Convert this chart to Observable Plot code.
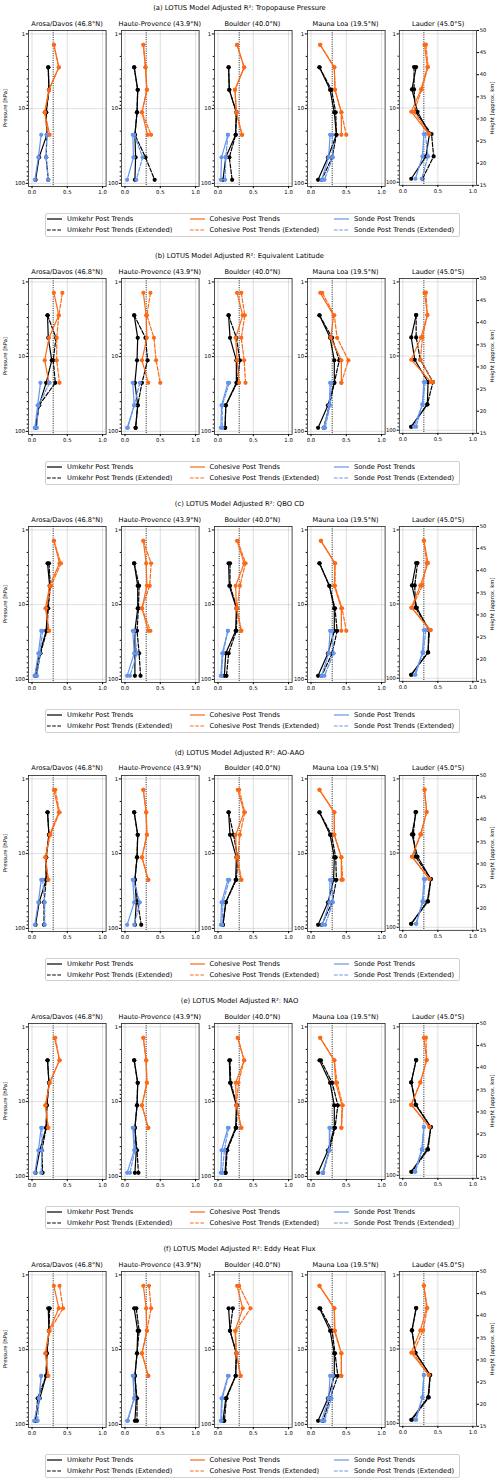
<!DOCTYPE html>
<html><head><meta charset="utf-8">
<script src="https://cdn.jsdelivr.net/npm/d3@7"></script>
<script src="https://cdn.jsdelivr.net/npm/@observablehq/plot@0.6"></script>
<style>
body{margin:0;background:#fff;}
#root{position:relative;width:500px;height:1483px;overflow:hidden;background:#fff;font-family:"DejaVu Sans",sans-serif;color:#000;}
.t{position:absolute;white-space:nowrap;transform:translate(-50%,-50%);line-height:1;}
.sub{position:absolute;}
.leg{position:absolute;border:0.8px solid #cfcfcf;border-radius:2px;background:#fff;box-sizing:border-box;}
</style></head><body><div id="root"></div>
<script>
// ---- Data ----
const stations = ["Arosa/Davos (46.8°N)", "Haute-Provence (43.9°N)", "Boulder (40.0°N)", "Mauna Loa (19.5°N)", "Lauder (45.0°S)"];
const titles = [
  "(a) LOTUS Model Adjusted R²: Tropopause Pressure",
  "(b) LOTUS Model Adjusted R²: Equivalent Latitude",
  "(c) LOTUS Model Adjusted R²: QBO CD",
  "(d) LOTUS Model Adjusted R²: AO-AAO",
  "(e) LOTUS Model Adjusted R²: NAO",
  "(f) LOTUS Model Adjusted R²: Eddy Heat Flux"
];
const umkehrP = [2.8, 5.6, 11.2, 22.4, 44.8, 89.6];
const cohesiveP = [1.4, 2.8, 5.6, 11.2, 22.4];
const sondeP = [22.4, 44.8, 89.6];
const xTicks = [0, 0.5, 1];
const yTicks = [1, 10, 100];
const yMinorTicks = [2,3,4,5,6,7,8,9,20,30,40,50,60,70,80,90];
const heightTicks = [15,20,25,30,35,40,45,50];
const legendLabels = ["Umkehr Post Trends", "Umkehr Post Trends (Extended)", "Cohesive Post Trends", "Cohesive Post Trends (Extended)", "Sonde Post Trends", "Sonde Post Trends (Extended)"];

// (a) Tropopause Pressure
const a_umk  = [[0.23,0.24,0.20,0.21,0.10,0.05],[0.13,0.18,0.17,0.14,0.15,0.14],[0.15,0.16,0.26,0.25,0.11,0.07],[0.12,0.27,0.33,0.36,0.24,0.10],[0.19,0.13,0.21,0.38,0.33,0.12]];
const a_umkX = [[0.23,0.24,0.20,0.21,0.20,0.23],[0.13,0.18,0.17,0.14,0.29,0.42],[0.15,0.16,0.26,0.25,0.16,0.20],[0.12,0.29,0.35,0.36,0.30,0.15],[0.16,0.16,0.18,0.41,0.44,0.28]];
const a_coh  = [[0.31,0.38,0.24,0.18,0.25],[0.26,0.29,0.31,0.24,0.32],[0.27,0.37,0.24,0.26,0.34],[0.13,0.33,0.34,0.43,0.43],[0.31,0.35,0.26,0.12,0.37]];
const a_cohX = [[0.31,0.38,0.24,0.18,0.22],[0.26,0.29,0.31,0.24,0.37],[0.27,0.37,0.24,0.26,0.34],[0.13,0.33,0.34,0.43,0.50],[0.33,0.36,0.27,0.16,0.38]];
const a_son  = [[0.13,0.09,0.04],[0.11,0.12,0.03],[0.14,0.05,0.04],[0.27,0.25,0.15],[0.30,0.28,0.18]];
const a_sonX = [[0.21,0.20,0.23],[0.13,0.25,0.16],[0.14,0.11,0.10],[0.30,0.31,0.19],[0.32,0.36,0.27]];

// (b) Equivalent Latitude
const b_umk  = [[0.22,0.23,0.28,0.20,0.10,0.05],[0.13,0.18,0.17,0.14,0.18,0.15],[0.15,0.17,0.26,0.26,0.11,0.10],[0.12,0.27,0.33,0.33,0.24,0.10],[0.19,0.12,0.17,0.36,0.35,0.12]];
const b_umkX = [[0.22,0.34,0.30,0.33,0.10,0.05],[0.13,0.29,0.32,0.24,0.18,0.15],[0.15,0.26,0.31,0.27,0.11,0.10],[0.12,0.30,0.40,0.33,0.26,0.18],[0.19,0.19,0.25,0.43,0.35,0.12]];
const b_coh  = [[0.31,0.38,0.24,0.18,0.24],[0.26,0.30,0.31,0.24,0.33],[0.27,0.35,0.25,0.27,0.30],[0.13,0.32,0.28,0.43,0.43],[0.31,0.35,0.26,0.12,0.40]];
const b_cohX = [[0.43,0.38,0.35,0.35,0.39],[0.36,0.31,0.41,0.44,0.50],[0.33,0.38,0.33,0.37,0.39],[0.16,0.33,0.37,0.53,0.43],[0.33,0.35,0.28,0.25,0.43]];
const b_son  = [[0.12,0.08,0.04],[0.11,0.13,0.03],[0.14,0.05,0.04],[0.27,0.26,0.18],[0.30,0.28,0.16]];
const b_sonX = [[0.25,0.09,0.07],[0.21,0.13,0.04],[0.16,0.06,0.06],[0.29,0.27,0.20],[0.32,0.28,0.19]];

// (c) QBO CD
const c_umk  = [[0.22,0.25,0.22,0.20,0.11,0.04],[0.13,0.18,0.18,0.14,0.14,0.14],[0.15,0.16,0.26,0.25,0.11,0.09],[0.12,0.26,0.33,0.33,0.24,0.10],[0.19,0.13,0.20,0.37,0.36,0.12]];
const c_umkX = [[0.24,0.26,0.23,0.21,0.12,0.06],[0.13,0.20,0.19,0.17,0.20,0.22],[0.17,0.17,0.27,0.26,0.15,0.12],[0.12,0.26,0.34,0.37,0.30,0.15],[0.21,0.17,0.18,0.38,0.36,0.12]];
const c_coh  = [[0.31,0.39,0.25,0.19,0.24],[0.26,0.30,0.31,0.24,0.33],[0.27,0.37,0.25,0.26,0.33],[0.14,0.34,0.33,0.43,0.43],[0.30,0.36,0.25,0.12,0.40]];
const c_cohX = [[0.31,0.41,0.27,0.20,0.24],[0.26,0.37,0.35,0.24,0.36],[0.28,0.39,0.31,0.27,0.33],[0.14,0.34,0.34,0.44,0.50],[0.30,0.34,0.28,0.13,0.38]];
const c_son  = [[0.13,0.09,0.04],[0.11,0.13,0.03],[0.14,0.06,0.04],[0.27,0.25,0.15],[0.30,0.28,0.17]];
const c_sonX = [[0.15,0.11,0.07],[0.13,0.17,0.07],[0.14,0.07,0.05],[0.30,0.32,0.19],[0.33,0.29,0.18]];

// (d) AO-AAO
const d_umk  = [[0.22,0.24,0.20,0.20,0.10,0.05],[0.13,0.18,0.17,0.14,0.16,0.14],[0.15,0.17,0.26,0.25,0.11,0.07],[0.12,0.27,0.33,0.32,0.24,0.10],[0.19,0.13,0.21,0.40,0.35,0.12]];
const d_umkX = [[0.22,0.24,0.20,0.20,0.17,0.17],[0.13,0.18,0.17,0.14,0.18,0.23],[0.15,0.22,0.28,0.26,0.11,0.07],[0.12,0.29,0.35,0.36,0.30,0.15],[0.18,0.15,0.18,0.40,0.36,0.12]];
const d_coh  = [[0.31,0.38,0.25,0.19,0.23],[0.26,0.30,0.31,0.24,0.33],[0.28,0.37,0.25,0.26,0.33],[0.12,0.33,0.33,0.43,0.43],[0.31,0.34,0.25,0.13,0.38]];
const d_cohX = [[0.33,0.39,0.26,0.19,0.23],[0.26,0.30,0.31,0.24,0.33],[0.30,0.38,0.31,0.28,0.33],[0.12,0.33,0.33,0.43,0.45],[0.31,0.34,0.26,0.13,0.38]];
const d_son  = [[0.13,0.09,0.04],[0.11,0.13,0.03],[0.14,0.05,0.04],[0.27,0.26,0.16],[0.30,0.28,0.19]];
const d_sonX = [[0.15,0.18,0.18],[0.12,0.21,0.13],[0.16,0.07,0.06],[0.29,0.31,0.20],[0.32,0.29,0.19]];

// (e) NAO
const e_umk  = [[0.22,0.24,0.21,0.20,0.11,0.05],[0.13,0.18,0.17,0.14,0.16,0.14],[0.16,0.17,0.26,0.25,0.12,0.10],[0.12,0.27,0.33,0.33,0.24,0.10],[0.19,0.12,0.18,0.40,0.35,0.12]];
const e_umkX = [[0.22,0.24,0.21,0.20,0.14,0.15],[0.13,0.18,0.17,0.14,0.17,0.19],[0.17,0.18,0.27,0.26,0.13,0.11],[0.14,0.30,0.38,0.34,0.26,0.17],[0.19,0.12,0.19,0.40,0.36,0.13]];
const e_coh  = [[0.32,0.39,0.25,0.19,0.23],[0.26,0.30,0.31,0.24,0.33],[0.28,0.37,0.25,0.26,0.33],[0.13,0.33,0.35,0.44,0.43],[0.30,0.34,0.25,0.12,0.38]];
const e_cohX = [[0.33,0.39,0.25,0.19,0.23],[0.26,0.30,0.31,0.24,0.33],[0.28,0.37,0.29,0.26,0.33],[0.13,0.33,0.37,0.45,0.43],[0.33,0.34,0.25,0.12,0.38]];
const e_son  = [[0.13,0.09,0.04],[0.11,0.13,0.03],[0.14,0.05,0.04],[0.26,0.26,0.17],[0.30,0.27,0.17]];
const e_sonX = [[0.14,0.14,0.13],[0.12,0.14,0.07],[0.15,0.09,0.06],[0.27,0.26,0.16],[0.30,0.28,0.18]];

// (f) Eddy Heat Flux
const f_umk  = [[0.23,0.24,0.21,0.20,0.11,0.04],[0.13,0.18,0.17,0.14,0.16,0.14],[0.15,0.17,0.26,0.25,0.11,0.07],[0.12,0.27,0.33,0.33,0.24,0.10],[0.19,0.13,0.18,0.39,0.36,0.12]];
const f_umkX = [[0.25,0.24,0.21,0.20,0.08,0.05],[0.16,0.20,0.17,0.14,0.17,0.17],[0.21,0.17,0.26,0.25,0.12,0.09],[0.13,0.30,0.34,0.38,0.27,0.17],[0.19,0.13,0.18,0.39,0.37,0.13]];
const f_coh  = [[0.31,0.38,0.24,0.19,0.23],[0.26,0.30,0.31,0.24,0.33],[0.27,0.35,0.24,0.26,0.32],[0.12,0.33,0.34,0.43,0.43],[0.30,0.34,0.25,0.12,0.37]];
const f_cohX = [[0.39,0.44,0.25,0.19,0.23],[0.34,0.37,0.31,0.24,0.33],[0.30,0.46,0.25,0.26,0.32],[0.12,0.33,0.33,0.43,0.43],[0.30,0.35,0.29,0.15,0.37]];
const f_son  = [[0.13,0.10,0.03],[0.11,0.13,0.03],[0.14,0.05,0.04],[0.27,0.25,0.15],[0.30,0.28,0.18]];
const f_sonX = [[0.13,0.10,0.08],[0.12,0.13,0.04],[0.15,0.06,0.05],[0.31,0.29,0.19],[0.30,0.28,0.19]];

// ---- Build ----
const BLACK = "#000000", ORANGE = "#fd6a17", BLUE = "#6495ed";
const seriesDefs = [
  {key: 0, P: umkehrP, color: BLACK, dash: null},
  {key: 1, P: umkehrP, color: BLACK, dash: "4,1.8"},
  {key: 2, P: cohesiveP, color: ORANGE, dash: null},
  {key: 3, P: cohesiveP, color: ORANGE, dash: "4,1.8"},
  {key: 4, P: sondeP, color: BLUE, dash: null},
  {key: 5, P: sondeP, color: BLUE, dash: "4,1.8"}
];
const panels = [
  [a_umk, a_umkX, a_coh, a_cohX, a_son, a_sonX],
  [b_umk, b_umkX, b_coh, b_cohX, b_son, b_sonX],
  [c_umk, c_umkX, c_coh, c_cohX, c_son, c_sonX],
  [d_umk, d_umkX, d_coh, d_cohX, d_son, d_sonX],
  [e_umk, e_umkX, e_coh, e_cohX, e_son, e_sonX],
  [f_umk, f_umkX, f_coh, f_cohX, f_son, f_sonX]
];

const root = document.getElementById("root");
const STEP = 248.2;
const frameLefts = [28.3, 121, 213.6, 306.7, 399.3];
const FW = 77.6, FT = 30, FH = 156;
const mL = 22, mT = 4, mB = 14;

function addText(txt, x, y, size, rot) {
  const d = document.createElement("div");
  d.className = "t";
  d.textContent = txt;
  d.style.left = x + "px";
  d.style.top = y + "px";
  d.style.fontSize = size + "px";
  if (rot) d.style.transform = "translate(-50%,-50%) rotate(" + rot + "deg)";
  root.appendChild(d);
  return d;
}
function place(el, left, top) {
  const w = document.createElement("div");
  w.className = "sub";
  w.style.left = left + "px";
  w.style.top = top + "px";
  w.appendChild(el);
  root.appendChild(w);
}
const plotStyle = {fontFamily: "DejaVu Sans, sans-serif", fontSize: "5.3px", color: "#000", background: "transparent", overflow: "visible"};

panels.forEach((pan, pi) => {
  const top = pi * STEP;
  addText(titles[pi], 239.5, top + 8, 6.8);
  addText("Pressure [hPa]", 6, top + FT + FH / 2, 5.3, -90);
  addText("Height [approx. km]", 493.3, top + FT + FH / 2, 5.3, -90);

  stations.forEach((st, si) => {
    const fl = frameLefts[si];
    addText(st, fl + FW / 2, top + 23.7, 6.6);
    const mR = si === 4 ? 24 : 4;
    const W = mL + FW + mR, H = mT + FH + mB;
    const marks = [
      Plot.gridX({ticks: xTicks, stroke: "#b0b0b0", strokeOpacity: 0.5, strokeWidth: 0.8}),
      Plot.gridY({ticks: yTicks, stroke: "#b0b0b0", strokeOpacity: 0.5, strokeWidth: 0.8}),
      Plot.ruleX([0.3], {stroke: "#000", strokeWidth: 0.9, strokeDasharray: "1,1.3"})
    ];
    seriesDefs.forEach(s => {
      const rows = pan[s.key][si].map((v, i) => ({x: v, p: s.P[i]}));
      marks.push(Plot.line(rows, {x: "x", y: "p", stroke: s.color, strokeWidth: 1.2, strokeDasharray: s.dash || undefined}));
      marks.push(Plot.dot(rows, {x: "x", y: "p", fill: s.color, r: 2.1, stroke: "none"}));
    });
    marks.push(Plot.frame({stroke: "#222", strokeWidth: 0.8}));
    marks.push(Plot.axisX({ticks: xTicks, tickFormat: d => d.toFixed(1), tickSize: 2.2, tickPadding: 1.3, label: null}));
    marks.push(Plot.axisY({ticks: yTicks, tickFormat: d => String(d), tickSize: 2.2, tickPadding: 1.2, label: null}));
    marks.push(Plot.axisY({ticks: yMinorTicks, tickFormat: () => "", tickSize: 1.3, label: null}));
    const chart = Plot.plot({
      width: W, height: H,
      marginLeft: mL, marginRight: mR, marginTop: mT, marginBottom: mB,
      x: {domain: [-0.05, 1.05]},
      y: {type: "log", domain: [0.9, 110], reverse: true},
      style: plotStyle,
      marks
    });
    place(chart, fl - mL, top + FT - mT);

    if (si === 4) {
      const overlay = Plot.plot({
        width: W, height: H,
        marginLeft: mL, marginRight: mR, marginTop: mT, marginBottom: mB,
        y: {domain: [15, 50]},
        style: plotStyle,
        marks: [Plot.axisY({anchor: "right", ticks: heightTicks, tickSize: 2.2, tickPadding: 1.2, label: null})]
      });
      place(overlay, fl - mL, top + FT - mT);
    }
  });

  // legend
  const leg = document.createElement("div");
  leg.className = "leg";
  leg.style.left = "45px";
  leg.style.top = (top + 213) + "px";
  leg.style.width = "415px";
  leg.style.height = "23.5px";
  root.appendChild(leg);
  const colX = [47, 189.5, 334];
  const rowY = [219, 230];
  seriesDefs.forEach((s, k) => {
    const c = Math.floor(k / 2), r = k % 2;
    const ns = "http://www.w3.org/2000/svg";
    const svg = document.createElementNS(ns, "svg");
    svg.setAttribute("width", "15");
    svg.setAttribute("height", "4");
    svg.style.position = "absolute";
    svg.style.left = colX[c] + "px";
    svg.style.top = (top + rowY[r] - 2) + "px";
    const ln = document.createElementNS(ns, "line");
    ln.setAttribute("x1", "0"); ln.setAttribute("x2", "15");
    ln.setAttribute("y1", "2"); ln.setAttribute("y2", "2");
    ln.setAttribute("stroke", s.color);
    ln.setAttribute("stroke-width", "1.2");
    if (s.dash) ln.setAttribute("stroke-dasharray", "3.6,1.6");
    svg.appendChild(ln);
    root.appendChild(svg);
    const t = document.createElement("div");
    t.textContent = legendLabels[k];
    t.style.position = "absolute";
    t.style.whiteSpace = "nowrap";
    t.style.lineHeight = "1";
    t.style.fontSize = "6.7px";
    t.style.left = (colX[c] + 20) + "px";
    t.style.top = (top + rowY[r]) + "px";
    t.style.transform = "translateY(-50%)";
    root.appendChild(t);
  });
});
</script></body></html>
